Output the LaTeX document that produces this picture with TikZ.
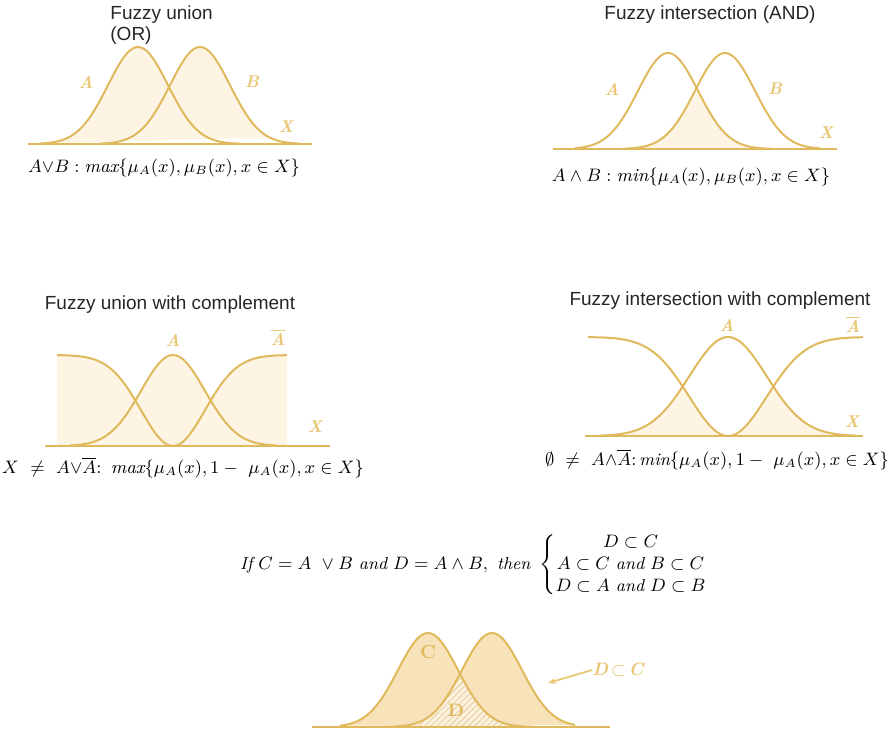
\documentclass[tikz,border=0pt]{standalone}
\usepackage{fontspec}
\setsansfont{Liberation Sans}
\usetikzlibrary{positioning,arrows.meta,patterns.meta}

\definecolor{curvegold}{HTML}{E0B95C}
\definecolor{labgold}{HTML}{E8C674}
\definecolor{shadelight}{HTML}{FDF4E4}
\definecolor{shadedark}{HTML}{F7E2BA}
\definecolor{hatchbg}{HTML}{FBF1DE}
\definecolor{hatchgold}{HTML}{E6CC98}

\begin{document}
\begin{tikzpicture}[
    x=0.5pt, y=-0.5pt,
    declare function={ga(\x,\m,\s)=exp(-0.5*((\x-\m)/\s)*((\x-\m)/\s));},
    curve/.style={draw=curvegold, line width=1pt},
    axisline/.style={draw=curvegold, line width=1.3pt},
    shade/.style={fill=shadelight},
    curvelab/.style={text=labgold, inner sep=0pt, font=\fontsize{8.5}{10}\selectfont\bfseries\itshape},
    title/.style={text=black!85, inner sep=0pt, font=\fontsize{9.5}{10.5}\selectfont\sffamily},
    formula/.style={inner sep=0pt, font=\fontsize{9.2}{11}\selectfont},
    arrow/.style={-{Stealth[length=4pt]}, draw=labgold, line width=0.9pt}
]
    \useasboundingbox (0,0) rectangle (894,734);

    % union
    \fill[shade] plot[domain=40:270, samples=100] (\x,{144-97*max(ga(\x,138,30),ga(\x,200,30))}) -- cycle;
    \draw[curve] plot[domain=40:240, samples=80] (\x,{144-97*ga(\x,138,30)});
    \draw[curve] plot[domain=100:300, samples=80] (\x,{144-97*ga(\x,200,30)});
    \draw[axisline] (28,144) -- (312,144);
    \node[curvelab] (uniA) at (86,82) {A};
    \node[curvelab] (uniB) at (252,82) {B};
    \node[curvelab] (uniX) at (286,127) {X};
    \node[title, anchor=north west, align=left] (uniTitle) at (110,5) {Fuzzy union\\(OR)};
    \node[formula] (uniRule) at (164,168) {$A{\vee}B : \mathit{max}\{\mu_A(x), \mu_B(x), x\in X\}$};

    % intersection
    \fill[shade] plot[domain=620:775, samples=80] (\x,{149-96*min(ga(\x,668,30),ga(\x,725,30))}) -- cycle;
    \draw[curve] plot[domain=575:770, samples=80] (\x,{149-96*ga(\x,668,30)});
    \draw[curve] plot[domain=625:820, samples=80] (\x,{149-96*ga(\x,725,30)});
    \draw[axisline] (553,149) -- (837,149);
    \node[curvelab] (intA) at (612,89) {A};
    \node[curvelab] (intB) at (775,89) {B};
    \node[curvelab] (intX) at (826,133) {X};
    \node[title] (intTitle) at (710,15) {Fuzzy intersection (AND)};
    \node[formula] (intRule) at (691,177) {$A\wedge B : \mathit{min}\{\mu_A(x), \mu_B(x), x\in X\}$};

    % union with complement
    \fill[shade] (57,446) -- plot[domain=57:287, samples=120] (\x,{446-91*max(ga(\x,173,32),1-ga(\x,173,32))}) -- (287,446) -- cycle;
    \draw[curve] plot[domain=70:276, samples=100] (\x,{446-91*ga(\x,173,32)});
    \draw[curve] plot[domain=57:287, samples=120] (\x,{446-91*(1-ga(\x,173,32))});
    \draw[axisline] (45,446) -- (330,446);
    \node[curvelab] (ucA) at (173,340) {A};
    \node[curvelab] (ucAbar) at (278,337) {$\overline{\textbf{\textit{A}}}$};
    \node[curvelab] (ucX) at (315,427) {X};
    \node[title] (ucTitle) at (170,305) {Fuzzy union with complement};
    \node[formula] (ucRule) at (183,468) {$X\ \neq\ A{\vee}\overline{A}\colon\ \mathit{max}\{\mu_A(x), 1-\ \mu_A(x), x\in X\}$};

    % intersection with complement
    \fill[shade] plot[domain=588:863, samples=140] (\x,{436-99*min(ga(\x,728,38.5),1-ga(\x,728,38.5))}) -- cycle;
    \draw[curve] plot[domain=600:856, samples=100] (\x,{436-99*ga(\x,728,38.5)});
    \draw[curve] plot[domain=588:863, samples=140] (\x,{436-99*(1-ga(\x,728,38.5))});
    \draw[axisline] (585,436) -- (863,436);
    \node[curvelab] (icA) at (727,325) {A};
    \node[curvelab] (icAbar) at (853,324) {$\overline{\textbf{\textit{A}}}$};
    \node[curvelab] (icX) at (852,422) {X};
    \node[title] (icTitle) at (720,301) {Fuzzy intersection with complement};
    \node[formula, font=\fontsize{8.8}{11}\selectfont] (icRule) at (717,460) {$\emptyset\ \neq\ A{\wedge}\overline{A}\colon \mathit{min}\{\mu_A(x), 1-\ \mu_A(x), x\in X\}$};

    % subset rule
    \node[formula, font=\fontsize{8.7}{11}\selectfont] (subRule) at (474,565) {$\mathit{If}\ C = A\ \vee B\ \mathit{and}\ D = A\wedge B,\ \mathit{then}\ \left\{\begin{array}{@{}c@{}} D\subset C\\ A\subset C\ \mathit{and}\ B\subset C\\ D\subset A\ \mathit{and}\ D\subset B\end{array}\right.$};

    % C and D
    \fill[fill=shadedark] plot[domain=340:575, samples=100] (\x,{727-94*max(ga(\x,428,30),ga(\x,492,30))}) -- cycle;
    \fill[fill=hatchbg] plot[domain=395:525, samples=80] (\x,{727-94*min(ga(\x,428,30),ga(\x,492,30))}) -- cycle;
    \fill[pattern={Lines[angle=45,distance=2.2pt,line width=0.4pt]}, pattern color=hatchgold] plot[domain=395:525, samples=80] (\x,{727-94*min(ga(\x,428,30),ga(\x,492,30))}) -- cycle;
    \draw[curve] plot[domain=340:535, samples=80] (\x,{727-94*ga(\x,428,30)});
    \draw[curve] plot[domain=385:575, samples=80] (\x,{727-94*ga(\x,492,30)});
    \draw[axisline] (312,727) -- (610,727);
    \node[curvelab, text=curvegold, font=\fontsize{9.5}{11}\selectfont\bfseries] (setC) at (428,652) {C};
    \node[curvelab, text=curvegold, font=\fontsize{9}{11}\selectfont\bfseries] (setD) at (456,710) {D};
    \node[curvelab, anchor=west, font=\fontsize{9}{11}\selectfont\bfseries\itshape] (subLab) at (592,670) {D\,$\subset$\,C};
    \coordinate (subTip) at (548,683);
    \draw[arrow] (subLab.west) -- (subTip);
\end{tikzpicture}
\end{document}
